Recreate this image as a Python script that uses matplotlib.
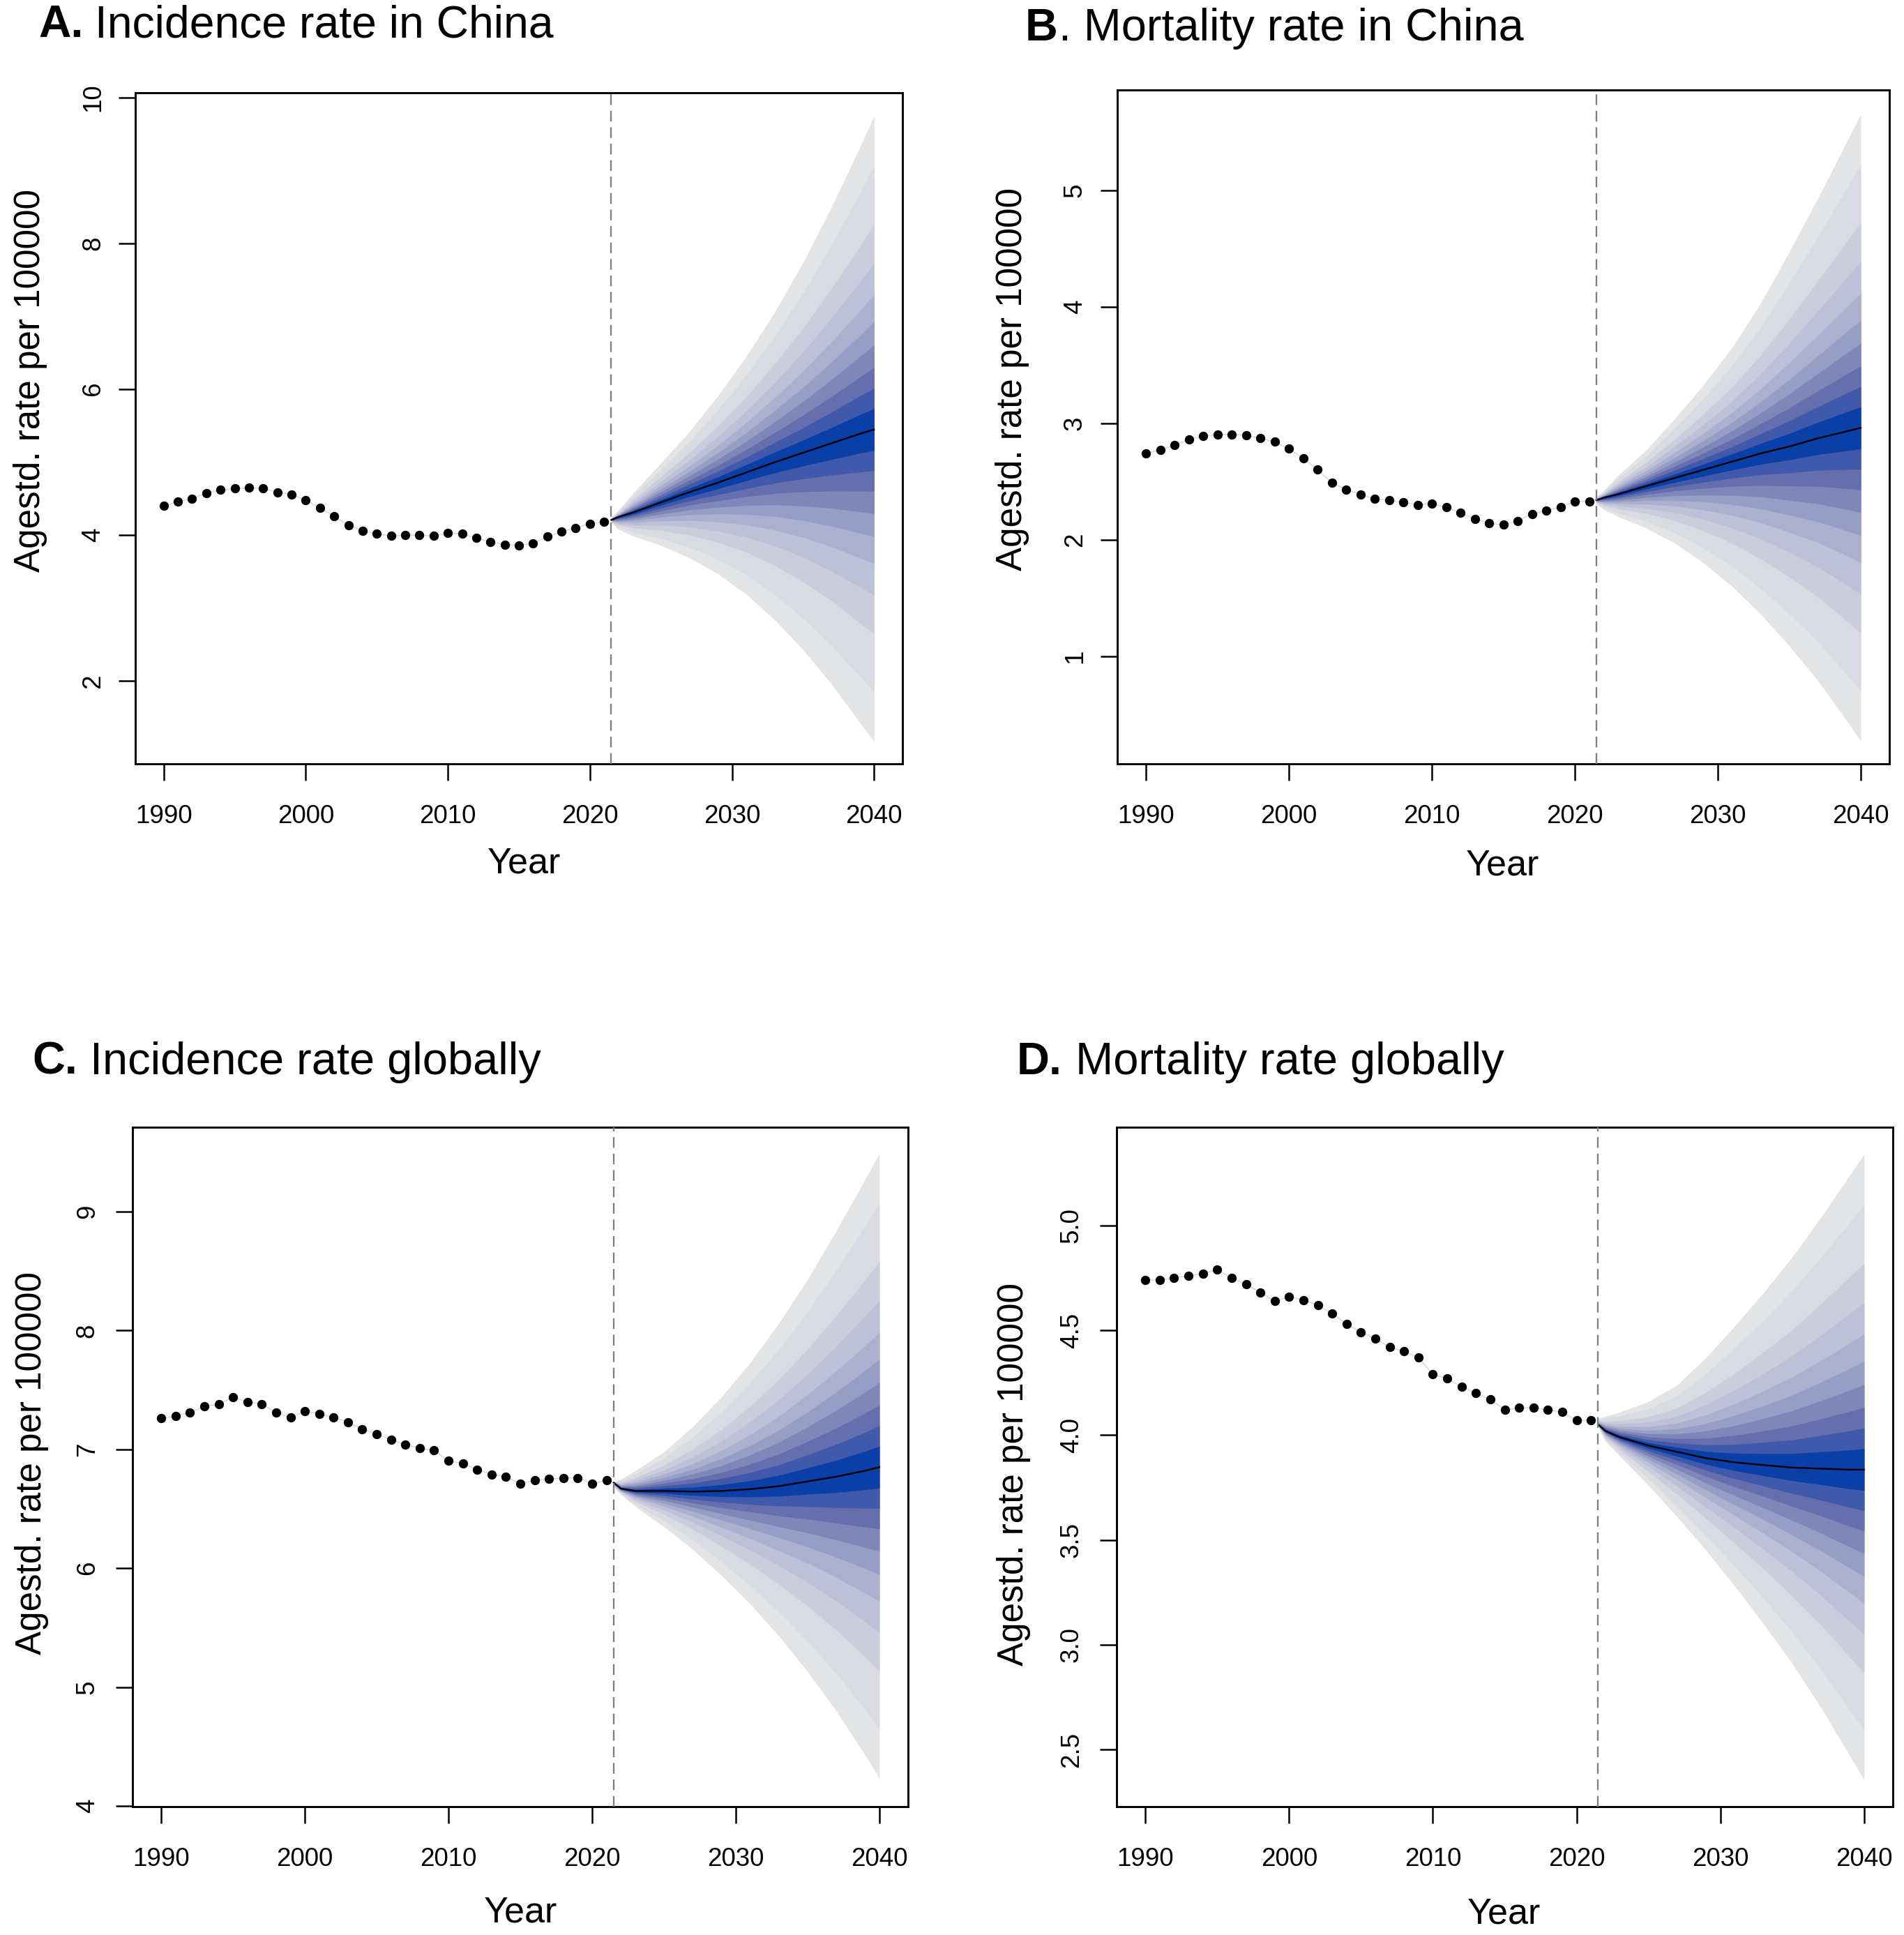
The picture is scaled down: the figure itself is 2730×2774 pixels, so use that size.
import matplotlib
matplotlib.use("Agg")
import matplotlib.pyplot as plt
import numpy as np

plt.rcParams['font.family'] = ['Liberation Sans', 'DejaVu Sans']

WIDTH, HEIGHT = 2730, 2774

obs_years = list(range(1990, 2022))
fan_years = [2021.5, 2022, 2023, 2025, 2027, 2029, 2031, 2033, 2035, 2037, 2039, 2040]
xticks = [1990, 2000, 2010, 2020, 2030, 2040]

# share of the distance from the median to the outer edge, read at 2040
band_edges = [0.067, 0.132, 0.198, 0.27, 0.344, 0.43, 0.531, 0.655, 0.84, 1.0]
band_colors = ['#0A3FA8', '#4159AA', '#666FAE', '#7F87B9', '#979EC5',
               '#ABB0CF', '#BDC0D7', '#CBCDDD', '#DADBE2', '#E3E4E5']

# A. Incidence rate in China
a_obs = [4.40, 4.46, 4.50, 4.58, 4.62, 4.64, 4.65, 4.64, 4.59, 4.56, 4.48, 4.375,
         4.26, 4.14, 4.06, 4.02, 3.99, 4.00, 4.00, 3.99, 4.03, 4.02, 3.96, 3.91,
         3.87, 3.86, 3.89, 3.98, 4.05, 4.10, 4.16, 4.18]
a_mean = [4.21, 4.25, 4.31, 4.45, 4.59, 4.72, 4.86, 5.00, 5.13, 5.26, 5.39, 5.45]
a_upper = [4.25, 4.34, 4.57, 4.99, 5.42, 5.91, 6.45, 7.06, 7.74, 8.50, 9.32, 9.75]
a_lower = [4.17, 4.08, 3.99, 3.86, 3.69, 3.47, 3.19, 2.84, 2.43, 1.96, 1.43, 1.17]

# B. Mortality rate in China
b_obs = [2.74, 2.77, 2.81, 2.86, 2.89, 2.90, 2.905, 2.895, 2.87, 2.84, 2.78, 2.70,
         2.60, 2.49, 2.43, 2.39, 2.35, 2.34, 2.32, 2.30, 2.31, 2.28, 2.23, 2.18,
         2.14, 2.13, 2.16, 2.22, 2.25, 2.28, 2.33, 2.33]
b_mean = [2.34, 2.36, 2.39, 2.46, 2.53, 2.60, 2.67, 2.74, 2.80, 2.87, 2.93, 2.96]
b_upper = [2.37, 2.42, 2.55, 2.77, 3.04, 3.33, 3.65, 4.03, 4.47, 4.93, 5.41, 5.65]
b_lower = [2.31, 2.26, 2.20, 2.10, 1.97, 1.80, 1.60, 1.36, 1.09, 0.79, 0.45, 0.27]

# C. Incidence rate globally
c_obs = [7.26, 7.28, 7.31, 7.36, 7.38, 7.44, 7.40, 7.38, 7.31, 7.27, 7.32, 7.30,
         7.27, 7.23, 7.17, 7.13, 7.08, 7.04, 7.01, 6.99, 6.905, 6.88, 6.83, 6.79,
         6.77, 6.71, 6.74, 6.75, 6.76, 6.76, 6.71, 6.74]
c_mean = [6.72, 6.67, 6.65, 6.65, 6.645, 6.65, 6.665, 6.69, 6.73, 6.77, 6.82, 6.85]
c_upper = [6.73, 6.75, 6.82, 6.98, 7.19, 7.44, 7.73, 8.06, 8.43, 8.84, 9.27, 9.49]
c_lower = [6.68, 6.62, 6.52, 6.35, 6.16, 5.94, 5.70, 5.43, 5.13, 4.80, 4.43, 4.23]

# D. Mortality rate globally
d_obs = [4.74, 4.74, 4.75, 4.76, 4.77, 4.79, 4.75, 4.72, 4.68, 4.64, 4.66, 4.645,
         4.62, 4.58, 4.53, 4.49, 4.46, 4.42, 4.40, 4.37, 4.29, 4.27, 4.23, 4.20,
         4.17, 4.12, 4.13, 4.13, 4.12, 4.11, 4.07, 4.07]
d_mean = [4.05, 4.02, 3.99, 3.95, 3.92, 3.89, 3.87, 3.857, 3.845, 3.84, 3.835, 3.835]
d_upper = [4.08, 4.09, 4.11, 4.16, 4.24, 4.37, 4.52, 4.68, 4.85, 5.04, 5.24, 5.34]
d_lower = [4.04, 3.97, 3.90, 3.76, 3.61, 3.45, 3.28, 3.10, 2.91, 2.70, 2.47, 2.355]

panels = [
    {'letter': 'A.', 'title': 'Incidence rate in China', 'box': (194, 1294, 133, 1095),
     'ylim': (0.864, 10.068), 'yticks': [2, 4, 6, 8, 10], 'ylabels': ['2', '4', '6', '8', '10'],
     'obs': a_obs, 'mean': a_mean, 'upper': a_upper, 'lower': a_lower,
     'letter_x': 55, 'title_x': 136, 'title_y': 36, 'title_size': 46.25,
     'ylab': (44, 546), 'xlab': (751, 1238), 'xpad': 25, 'ypad': 14},
    {'letter': 'B', 'title': '. Mortality rate in China', 'box': (1602, 2709, 129, 1095),
     'ylim': (0.077, 5.859), 'yticks': [1, 2, 3, 4, 5], 'ylabels': ['1', '2', '3', '4', '5'],
     'obs': b_obs, 'mean': b_mean, 'upper': b_upper, 'lower': b_lower,
     'letter_x': 1470, 'title_x': 1518, 'title_y': 41, 'title_size': 46.6,
     'ylab': (1452, 544), 'xlab': (2154, 1241), 'xpad': 25, 'ypad': 14},
    {'letter': 'C.', 'title': 'Incidence rate globally', 'box': (190, 1302, 1616, 2590),
     'ylim': (3.994, 9.71), 'yticks': [4, 5, 6, 7, 8, 9], 'ylabels': ['4', '5', '6', '7', '8', '9'],
     'obs': c_obs, 'mean': c_mean, 'upper': c_upper, 'lower': c_lower,
     'letter_x': 46, 'title_x': 129, 'title_y': 1523, 'title_size': 46.8,
     'ylab': (46, 2098), 'xlab': (746, 2742), 'xpad': 24.5, 'ypad': 17},
    {'letter': 'D.', 'title': 'Mortality rate globally', 'box': (1601, 2714, 1616, 2590),
     'ylim': (2.227, 5.469), 'yticks': [2.5, 3.0, 3.5, 4.0, 4.5, 5.0],
     'ylabels': ['2.5', '3.0', '3.5', '4.0', '4.5', '5.0'],
     'obs': d_obs, 'mean': d_mean, 'upper': d_upper, 'lower': d_lower,
     'letter_x': 1458, 'title_x': 1542, 'title_y': 1523, 'title_size': 46.8,
     'ylab': (1454, 2114), 'xlab': (2156, 2744), 'xpad': 24.5, 'ypad': 17},
]

fig = plt.figure(figsize=(WIDTH / 100, HEIGHT / 100), dpi=100)


def fig_text(px, py, s, **kw):
    fig.text(px / WIDTH, 1 - py / HEIGHT, s, **kw)


for p in panels:
    left, right, top, bottom = p['box']
    ax = fig.add_axes([left / WIDTH, 1 - bottom / HEIGHT, (right - left) / WIDTH, (bottom - top) / HEIGHT])

    mean = np.array(p['mean'])
    upper = np.array(p['upper'])
    lower = np.array(p['lower'])

    # outer bands first, the narrower ones paint over them
    for edge, color in zip(band_edges[::-1], band_colors[::-1]):
        ax.fill_between(fan_years, mean + edge * (upper - mean), mean - edge * (mean - lower),
                        color=color, linewidth=0, zorder=1)
    ax.plot(fan_years, mean, color='black', lw=1.7, zorder=2)

    ax.plot(obs_years, p['obs'], color='#d4d6de', lw=1.0, zorder=2)
    ax.scatter(obs_years, p['obs'], s=92, color='black', linewidths=0, zorder=3)

    ax.axvline(2021.5, color='#808080', lw=1.7, linestyle=(0, (6.5, 3.5)), zorder=4)

    ax.set_xlim(1988, 2042)
    ax.set_ylim(*p['ylim'])
    ax.set_xticks(xticks)
    ax.set_yticks(p['yticks'])
    ax.set_yticklabels(p['ylabels'], rotation=90, va='center')
    ax.tick_params(axis='x', length=17, width=1.8, pad=p['xpad'], labelsize=26.5)
    ax.tick_params(axis='y', length=17, width=1.8, pad=p['ypad'], labelsize=26.5)
    for spine in ax.spines.values():
        spine.set_linewidth(2.1)

    fig_text(p['ylab'][0], p['ylab'][1], 'Agestd. rate per 100000', rotation=90,
             ha='center', va='center', fontsize=36.8)
    fig_text(p['xlab'][0], p['xlab'][1], 'Year', ha='center', va='center', fontsize=37.5)
    fig_text(p['letter_x'], p['title_y'], p['letter'], ha='left', va='center',
             fontsize=p['title_size'], fontweight='bold')
    fig_text(p['title_x'], p['title_y'], p['title'], ha='left', va='center', fontsize=p['title_size'])

fig.savefig('out.png', dpi=100, facecolor='white')
